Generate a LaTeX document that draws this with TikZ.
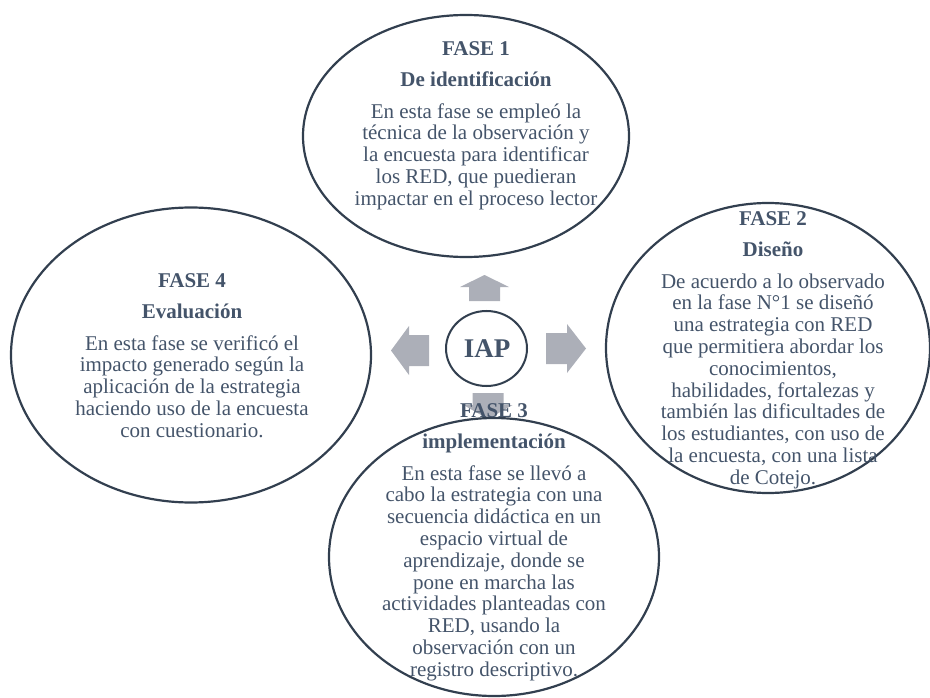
\documentclass[tikz,border=0pt]{standalone}
\usepackage{fontspec}
\setmainfont{Liberation Serif}
\usepackage{tikz}
\usetikzlibrary{positioning, shapes.geometric}

\definecolor{textc}{HTML}{44546A}
\definecolor{linec}{HTML}{323F4F}
\definecolor{arrowc}{HTML}{ACAFB8}

\begin{document}
\begin{tikzpicture}[
        x=1pt, y=-1pt,
        fase/.style={ellipse, draw=linec, line width=2.2pt, inner sep=0pt}, % the four phases
        hub/.style={ellipse, draw=linec, line width=2pt, inner sep=0pt},
        txt/.style={align=center, text=textc, inner sep=0pt, anchor=north,
            font=\fontsize{21}{21.8}\selectfont},
        blk/.style={fill=arrowc}
    ]
    \useasboundingbox (0,0) rectangle (930,698);

    % block arrows round the centre
    \fill[blk] (469,301) -- (469,287) -- (460,287) -- (484.5,275) -- (509,287) -- (500,287) -- (500,301) -- cycle;
    \fill[blk] (546,333) -- (567,333) -- (567,324) -- (586,348.5) -- (567,373) -- (567,364) -- (546,364) -- cycle;
    \fill[blk] (429,335) -- (409,335) -- (409,326) -- (391,350.5) -- (409,375) -- (409,366) -- (429,366) -- cycle;
    \fill[blk] (472.5,393) -- (503.5,393) -- (503.5,405) -- (512.5,405) -- (488,419) -- (463.5,405) -- (472.5,405) -- cycle;

    % ellipses
    \node[fase, minimum width=326, minimum height=242] (e1) at (466,136) {};
    \node[fase, minimum width=324, minimum height=290] (e2) at (768,348) {};
    \node[fase, minimum width=330, minimum height=278] (e3) at (494,557) {};
    \node[fase, minimum width=360, minimum height=295] (e4) at (191,355) {};
    \node[hub, minimum width=81, minimum height=75] (iap) at (486.5,348.5) {};
    \node[text=textc, font=\fontsize{27}{29}\selectfont\bfseries, anchor=base] (iaplbl) at (487,357.5) {IAP};

    % texts
    \node[txt] (t1) at (476,41) {\textbf{FASE 1}\\[9.2pt]\textbf{De identificación}\\[10.2pt]
        En esta fase se empleó la\\técnica de la observación y\\la encuesta para identificar\\
        los RED, que puedieran\\impactar en el proceso lector};
    \node[txt] (t2) at (773,211) {\textbf{FASE 2}\\[9.2pt]\textbf{Diseño}\\[10.2pt]
        De acuerdo a lo observado\\en la fase N°1 se diseñó\\una estrategia con RED\\
        que permitiera abordar los\\conocimientos,\\habilidades, fortalezas y\\
        también las dificultades de\\los estudiantes, con uso de\\la encuesta, con una lista\\de Cotejo.};
    \node[txt] (t3) at (494,403) {\textbf{FASE 3}\\[9.2pt]\textbf{implementación}\\[10.2pt]
        En esta fase se llevó a\\cabo la estrategia con una\\secuencia didáctica en un\\
        espacio virtual de\\aprendizaje, donde se\\pone en marcha las\\
        actividades planteadas con\\RED, usando la\\observación con un\\registro descriptivo.};
    \node[txt] (t4) at (192,273) {\textbf{FASE 4}\\[9.2pt]\textbf{Evaluación}\\[10.2pt]
        En esta fase se verificó el\\impacto generado según la\\aplicación de la estrategia\\
        haciendo uso de la encuesta\\con cuestionario.};
\end{tikzpicture}
\end{document}
